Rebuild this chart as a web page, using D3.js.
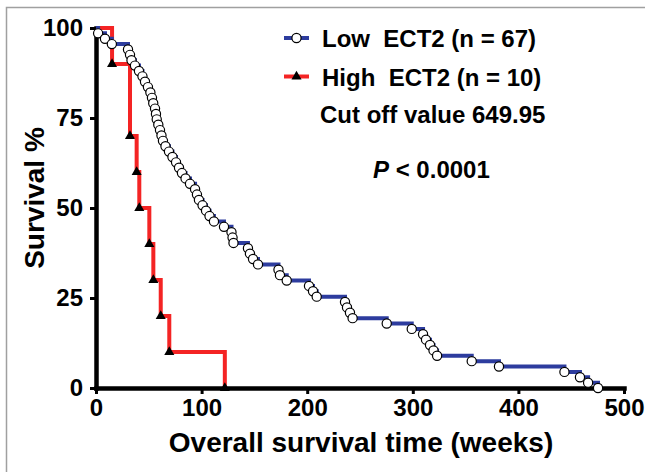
<!DOCTYPE html>
<html>
<head>
<meta charset="utf-8">
<script src="https://cdn.jsdelivr.net/npm/d3@7"></script>
<style>
  html, body { margin: 0; padding: 0; background: #fff; }
  svg { display: block; }
  text { font-family: "Liberation Sans", Arial, sans-serif; font-weight: bold; fill: #000; }
</style>
</head>
<body>
<svg id="chart" width="645" height="472"></svg>
<script>
// ---- data (event times in weeks) ----
const lowN = 67;
const lowTimes = [2, 8.5, 15, 30.3, 32.2, 33.6, 36.9, 40.7, 44, 46.4,
  49.2, 51.5, 53, 54.2, 55.9, 56.8, 57.5, 59, 60.6, 62,
  63.4, 65.8, 69.1, 72.4, 75.8, 78.6, 81.4, 84.8, 89, 93.8,
  95.6, 97.5, 100.9, 104.2, 107.5, 111.7, 121.2, 128.3, 129.3, 130.2,
  143.9, 145.8, 148.7, 153.4, 172.8, 174.2, 180.6, 201.7, 205.5, 209,
  235.8, 237.7, 240.5, 243, 275.3, 299, 309.7, 312.5, 316.3, 319.6,
  323, 355.8, 381.6, 443.6, 458.3, 466, 475.4];
const highN = 10;
const highTimes = [15.2, 32.2, 32.2, 38.5, 41, 50.5, 54.3, 61.3, 69.4, 122];

const xTicks = [0, 100, 200, 300, 400, 500];
const yTicks = [0, 25, 50, 75, 100];
const legendLabels = ["Low  ECT2 (n = 67)", "High  ECT2 (n = 10)"];
const cutoffLabel = "Cut off value 649.95";
const xTitle = "Overall survival time (weeks)";
const yTitle = "Survival %";

// ---- Kaplan-Meier steps from event times ----
function km(times, n) {
  const sorted = times.slice().sort((a, b) => a - b);
  const pts = [{ t: 0, s: 100 }];
  let dead = 0;
  let i = 0;
  while (i < sorted.length) {
    const t = sorted[i];
    while (i < sorted.length && sorted[i] === t) { dead++; i++; }
    pts.push({ t: t, s: 100 * (1 - dead / n) });
  }
  return pts;
}
const lowPts = km(lowTimes, lowN);
const highPts = km(highTimes, highN);

const svg = d3.select("#chart");

// frame
svg.append("rect").attr("x", 6.5).attr("y", 7.5).attr("width", 700).attr("height", 600)
  .attr("fill", "none").attr("stroke", "#a0a0a0").attr("stroke-width", 1.5);

const x = d3.scaleLinear().domain([0, 500]).range([96, 624]);
const y = d3.scaleLinear().domain([0, 100]).range([388, 28]);

// axes
const xAxis = svg.append("g").attr("transform", "translate(0,388)")
  .call(d3.axisBottom(x).tickValues(xTicks).tickSize(6).tickSizeOuter(0).tickPadding(5));
const yAxis = svg.append("g").attr("transform", "translate(96,0)")
  .call(d3.axisLeft(y).tickValues(yTicks).tickSize(6).tickSizeOuter(0).tickPadding(7));
[xAxis, yAxis].forEach(g => {
  g.select(".domain").attr("stroke", "#000").attr("stroke-width", 4.5).attr("stroke-linecap", "square");
  g.selectAll(".tick line").attr("stroke", "#000").attr("stroke-width", 3);
  g.selectAll(".tick text").style("font-size", "24px").style("font-family", "'Liberation Sans', Arial, sans-serif").style("font-weight", "bold").attr("fill", "#000");
});

// axis titles
svg.append("text").attr("x", 361).attr("y", 452).attr("text-anchor", "middle")
  .style("font-size", "28px").text(xTitle);
svg.append("text").attr("transform", "translate(44,198) rotate(-90)").attr("text-anchor", "middle")
  .style("font-size", "28px").text(yTitle);

// curves
const line = d3.line().x(d => x(d.t)).y(d => y(d.s)).curve(d3.curveStepAfter);
const blue = "#2d3c9e", red = "#f42424";

svg.append("path").datum(highPts).attr("d", line).attr("fill", "none")
  .attr("stroke", red).attr("stroke-width", 4);
svg.append("path").datum(lowPts).attr("d", line).attr("fill", "none")
  .attr("stroke", blue).attr("stroke-width", 4);

svg.append("g").selectAll("circle").data(lowPts.slice(1)).join("circle")
  .attr("cx", d => x(d.t)).attr("cy", d => y(d.s)).attr("r", 4.6)
  .attr("fill", "#fff").attr("stroke", "#000").attr("stroke-width", 1.2);

const tri = d3.symbol().type(d3.symbolTriangle).size(44);
svg.append("g").selectAll("path").data(highPts.slice(1)).join("path")
  .attr("d", tri).attr("transform", d => `translate(${x(d.t)},${y(d.s)})`).attr("fill", "#000");

// legend
const legY = [38, 76.5];
const leg = svg.append("g");
[0, 1].forEach(i => {
  leg.append("line").attr("x1", 284).attr("x2", 309).attr("y1", legY[i]).attr("y2", legY[i])
    .attr("stroke", i === 0 ? blue : red).attr("stroke-width", 4);
  if (i === 0) {
    leg.append("circle").attr("cx", 296.5).attr("cy", legY[i]).attr("r", 4.6)
      .attr("fill", "#fff").attr("stroke", "#000").attr("stroke-width", 1.2);
  } else {
    leg.append("path").attr("d", tri).attr("transform", `translate(296.5,${legY[i]})`).attr("fill", "#000");
  }
  leg.append("text").attr("x", 322).attr("y", legY[i] + 9).style("font-size", "24px")
    .style("white-space", "pre").text(legendLabels[i]);
});
svg.append("text").attr("x", 320).attr("y", 123).style("font-size", "24px").text(cutoffLabel);
const p = svg.append("text").attr("x", 373).attr("y", 178).style("font-size", "24px");
p.append("tspan").style("font-style", "italic").text("P");
p.append("tspan").text(" < 0.0001");
</script>
</body>
</html>
